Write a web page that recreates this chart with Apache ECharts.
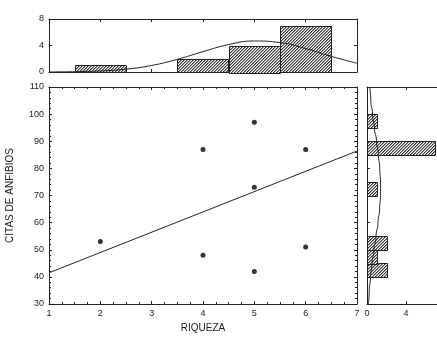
<!DOCTYPE html>
<html>
<head>
<meta charset="utf-8">
<script src="https://cdn.jsdelivr.net/npm/echarts@6/dist/echarts.min.js"></script>
<style>
  html, body { margin: 0; padding: 0; background: #fff; }
  #main { width: 437px; height: 340px; }
</style>
</head>
<body>
<div id="main"></div>
<script>
// scatter points (RIQUEZA, CITAS DE ANFIBIOS)
var riqueza = [2, 4, 4, 5, 5, 5, 6, 6];
var citas = [53, 87, 48, 97, 73, 42, 87, 51];

// fitted line, ends read at x = 1 and x = 7
var lineX = [1, 7];
var lineY = [41.5, 86.4];

// top histogram of RIQUEZA: [from, to, count]
var histXFrom = [1.5, 3.5, 4.5, 5.5];
var histXTo = [2.5, 4.5, 5.5, 6.5];
var histXCount = [1, 2, 4, 7];
// normal curve over it
var curveXPos = [1, 1.5, 2, 2.5, 3, 3.5, 4, 4.5, 5, 5.5, 6, 6.5, 7];
var curveXVal = [0.01, 0.05, 0.16, 0.43, 0.99, 1.91, 3.07, 4.14, 4.68, 4.44, 3.54, 2.36, 1.32];

// side histogram of CITAS: [from, to, count]
var histYFrom = [40, 45, 50, 70, 85, 95];
var histYTo = [45, 50, 55, 75, 90, 100];
var histYCount = [2, 1, 2, 1, 7, 1];
// normal curve beside it
var curveYPos = [30, 35, 40, 45, 50, 55, 60, 65, 70, 75, 80, 85, 90, 95, 100, 105, 110];
var curveYVal = [0.14, 0.23, 0.36, 0.52, 0.72, 0.93, 1.13, 1.29, 1.38, 1.39, 1.31, 1.17, 0.97, 0.76, 0.56, 0.39, 0.27];

var font = 'Liberation Sans, Arial, sans-serif';
var ink = '#222';

// hatch fill for the bars
var hc = document.createElement('canvas');
hc.width = 6; hc.height = 6;
var g = hc.getContext('2d');
g.fillStyle = '#fff';
g.fillRect(0, 0, 6, 6);
for (var i = 0; i < 6; i++) {
  for (var j = 0; j < 6; j++) {
    var k = (i + j) % 3;
    if (k === 0) { g.fillStyle = '#3a3a3a'; g.fillRect(i, j, 1, 1); }
    else if (k === 1) { g.fillStyle = '#999'; g.fillRect(i, j, 1, 1); }
  }
}
var hatch = { image: hc, repeat: 'repeat' };

function zip(a, b) {
  return a.map(function (v, k) { return [v, b[k]]; });
}
function zip3(a, b, c) {
  return a.map(function (v, k) { return [v, b[k], c[k]]; });
}

function axisX(grid, pos, opts) {
  var ax = {
    type: 'value', gridIndex: grid, position: pos,
    axisLine: { show: true, onZero: false, lineStyle: { color: ink, width: 1 } },
    axisTick: { show: true, inside: true, length: 3, lineStyle: { color: ink } },
    minorTick: { show: false },
    splitLine: { show: false },
    axisLabel: { show: false, color: ink, fontFamily: font, fontSize: 9, margin: 5 }
  };
  return Object.assign(ax, opts);
}

var chart = echarts.init(document.getElementById('main'));
chart.setOption({
  animation: false,
  grid: [
    { left: 49, top: 87, width: 308, height: 217, containLabel: false, outerBoundsMode: 'none' },
    { left: 49, top: 19, width: 308, height: 53, containLabel: false, outerBoundsMode: 'none' },
    { left: 367, top: 87, width: 78, height: 217, containLabel: false, outerBoundsMode: 'none' }
  ],
  xAxis: [
    axisX(0, 'bottom', {
      min: 1, max: 7, interval: 1,
      minorTick: { show: true, splitNumber: 4, length: 2, lineStyle: { color: ink } },
      axisLabel: { show: true, color: ink, fontFamily: font, fontSize: 9, margin: 5 },
      name: 'RIQUEZA', nameLocation: 'middle', nameGap: 19,
      nameTextStyle: { color: ink, fontFamily: font, fontSize: 10 }
    }),
    axisX(0, 'top', { min: 1, max: 7, interval: 1,
      minorTick: { show: true, splitNumber: 4, length: 2, lineStyle: { color: ink } } }),
    axisX(1, 'bottom', { min: 1, max: 7, interval: 1 }),
    axisX(1, 'top', { min: 1, max: 7, interval: 1 }),
    axisX(2, 'bottom', {
      min: 0, max: 8, interval: 4,
      axisLabel: { show: true, color: ink, fontFamily: font, fontSize: 9, margin: 5 }
    }),
    axisX(2, 'top', { min: 0, max: 8, interval: 4 })
  ],
  yAxis: [
    axisX(0, 'left', {
      min: 30, max: 110, interval: 10,
      minorTick: { show: true, splitNumber: 5, length: 2, lineStyle: { color: ink } },
      axisLabel: { show: true, color: ink, fontFamily: font, fontSize: 9, margin: 5 },
      name: 'CITAS DE ANFIBIOS', nameLocation: 'middle', nameGap: 34,
      nameTextStyle: { color: ink, fontFamily: font, fontSize: 10 }
    }),
    axisX(0, 'right', { min: 30, max: 110, interval: 10,
      minorTick: { show: true, splitNumber: 5, length: 2, lineStyle: { color: ink } } }),
    axisX(1, 'left', {
      min: 0, max: 8, interval: 4,
      axisLabel: { show: true, color: ink, fontFamily: font, fontSize: 9, margin: 5 }
    }),
    axisX(1, 'right', { min: 0, max: 8, interval: 4 }),
    axisX(2, 'left', { min: 30, max: 110, interval: 10 })
  ],
  series: [
    {
      type: 'line', xAxisIndex: 0, yAxisIndex: 0,
      data: zip(lineX, lineY), symbol: 'none',
      lineStyle: { color: ink, width: 1 }
    },
    {
      type: 'scatter', xAxisIndex: 0, yAxisIndex: 0,
      data: zip(riqueza, citas), symbolSize: 5,
      itemStyle: { color: '#000' }
    },
    {
      type: 'custom', xAxisIndex: 2, yAxisIndex: 2,
      data: zip3(histXFrom, histXTo, histXCount),
      encode: { x: [0, 1], y: 2 },
      renderItem: function (params, api) {
        var a = api.coord([api.value(0), 0]);
        var b = api.coord([api.value(1), api.value(2)]);
        return {
          type: 'rect',
          shape: { x: Math.round(a[0]) + 0.5, y: Math.round(b[1]) + 0.5,
            width: Math.round(b[0] - a[0]), height: Math.round(a[1] - b[1]) },
          style: { fill: hatch, stroke: ink, lineWidth: 1 }
        };
      }
    },
    {
      type: 'line', xAxisIndex: 2, yAxisIndex: 2,
      data: zip(curveXPos, curveXVal), symbol: 'none', smooth: true,
      lineStyle: { color: ink, width: 1 }, z: 5
    },
    {
      type: 'custom', xAxisIndex: 4, yAxisIndex: 4,
      data: zip3(histYFrom, histYTo, histYCount),
      encode: { x: 2, y: [0, 1] },
      renderItem: function (params, api) {
        var a = api.coord([0, api.value(0)]);
        var b = api.coord([api.value(2), api.value(1)]);
        return {
          type: 'rect',
          shape: { x: Math.round(a[0]) + 0.5, y: Math.round(b[1]) + 0.5,
            width: Math.round(b[0] - a[0]), height: Math.round(a[1] - b[1]) },
          style: { fill: hatch, stroke: ink, lineWidth: 1 }
        };
      }
    },
    {
      type: 'line', xAxisIndex: 4, yAxisIndex: 4,
      data: zip(curveYVal, curveYPos), symbol: 'none', smooth: true,
      smoothMonotone: 'y',
      lineStyle: { color: ink, width: 1 }, z: 5
    }
  ]
});
</script>
</body>
</html>
